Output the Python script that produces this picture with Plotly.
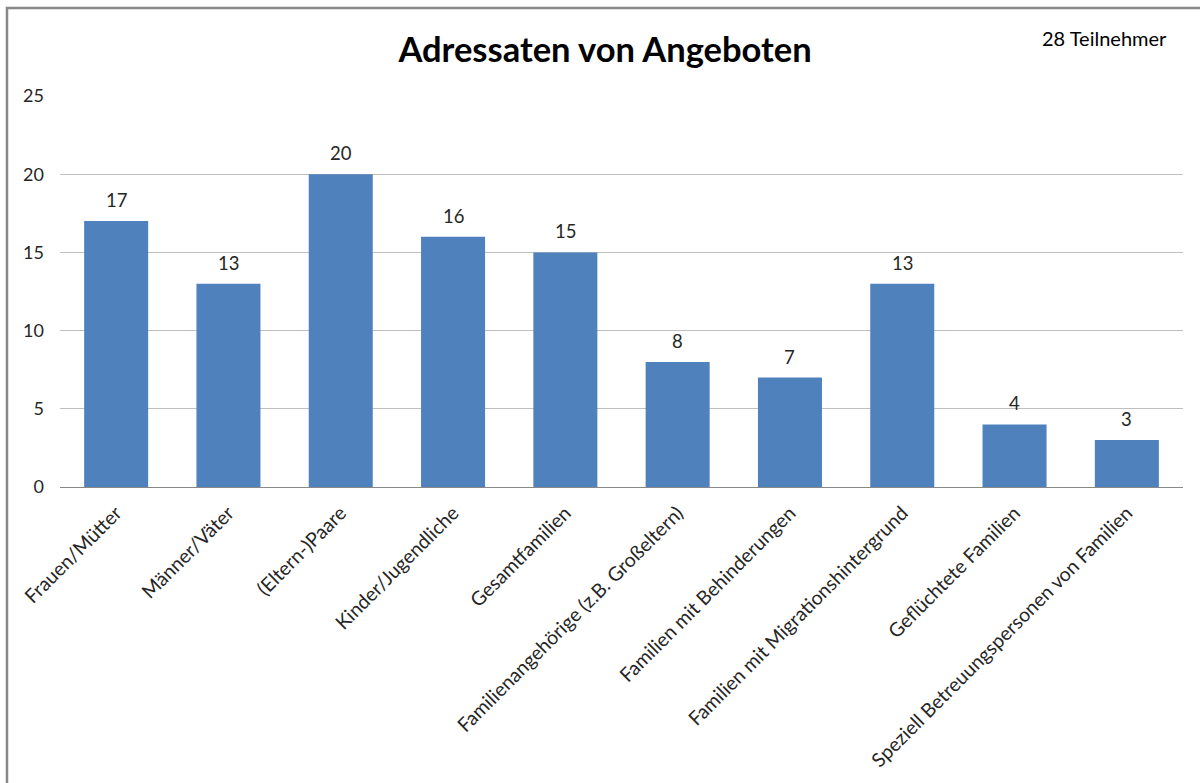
import plotly.graph_objects as go

categories = [
    "Frauen/Mütter",
    "Männer/Väter",
    "(Eltern-)Paare",
    "Kinder/Jugendliche",
    "Gesamtfamilien",
    "Familienangehörige (z.B. Großeltern)",
    "Familien mit Behinderungen",
    "Familien mit Migrationshintergrund",
    "Geflüchtete Familien",
    "Speziell Betreuungspersonen von Familien",
]
values = [17, 13, 20, 16, 15, 8, 7, 13, 4, 3]
y_ticks = [0, 5, 10, 15, 20, 25]

FONT = "Lato, 'Open Sans', sans-serif"
BAR = "#4F81BD"
TXT = "#262626"

fig = go.Figure(
    go.Bar(
        x=categories,
        y=values,
        marker=dict(color=BAR, line=dict(width=0)),
        cliponaxis=False,
        hoverinfo="x+y",
    )
)

for c, v in zip(categories, values):
    fig.add_annotation(
        x=c, y=v, text=str(v), showarrow=False,
        yanchor="middle", yshift=21,
        font=dict(size=18.5, color=TXT, family=FONT),
    )

L, R, T, B = 60, 17, 96, 296
fig.update_layout(
    width=1200,
    height=783,
    margin=dict(l=L, r=R, t=T, b=B, pad=0),
    paper_bgcolor="white",
    plot_bgcolor="white",
    bargap=0.43,
    showlegend=False,
    font=dict(family=FONT, size=18, color=TXT),
    title=dict(
        text="<b>Adressaten von Angeboten</b>",
        x=605 / 1200,
        xanchor="center",
        y=1 - 50 / 783,
        yanchor="middle",
        font=dict(size=34.5, color="black", family=FONT),
    ),
    xaxis=dict(
        tickangle=-45,
        showgrid=False,
        showline=True,
        linecolor="#888888",
        linewidth=1,
        ticks="",
        tickfont=dict(size=19.5, color=TXT),
        ticklabelstandoff=6,
    ),
    yaxis=dict(
        range=[0, 25],
        tickvals=y_ticks,
        showgrid=True,
        gridcolor="#bfbfbf",
        gridwidth=1,
        zeroline=True,
        zerolinecolor="#888888",
        zerolinewidth=1,
        showline=False,
        ticks="",
        tickfont=dict(size=18, color=TXT),
        ticklabelstandoff=15,
    ),
)

pw = 1200 - L - R
ph = 783 - T - B
def px_x(p):
    return (p - L) / pw
def px_y(p):
    return (783 - B - p) / ph

fig.add_shape(
    type="rect",
    xref="paper", yref="paper",
    x0=px_x(7), x1=px_x(1210),
    y0=px_y(795), y1=px_y(8),
    line=dict(color="#888888", width=2.5),
    fillcolor="rgba(0,0,0,0)",
    layer="above",
)

fig.add_annotation(
    text="28 Teilnehmer",
    xref="paper", yref="paper",
    x=px_x(1169), y=px_y(38),
    xanchor="right", yanchor="middle",
    showarrow=False,
    font=dict(size=20, color="black", family=FONT),
)

fig.write_html(
    "out.html",
    config={"displayModeBar": False},
    post_script="document.body.style.margin='0';document.body.style.padding='0';document.body.style.overflow='hidden';",
)
